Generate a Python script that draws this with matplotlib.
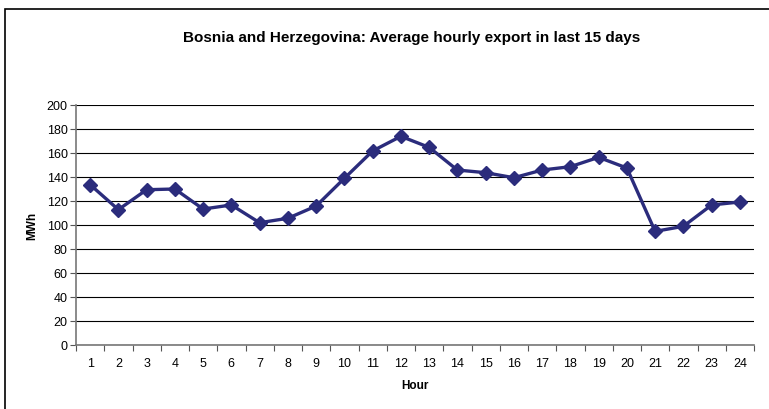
import matplotlib
matplotlib.use("Agg")
import matplotlib.pyplot as plt
from matplotlib.patches import Rectangle

hours = list(range(1, 25))
export_mwh = [133.6, 112.8, 129.4, 130.0, 113.3, 116.7, 101.9, 105.6, 115.8, 138.9,
              161.7, 173.9, 164.7, 145.8, 143.6, 139.4, 145.8, 148.6, 156.4, 147.5,
              94.7, 98.9, 116.7, 119.2]
y_ticks = list(range(0, 201, 20))

plt.rcParams["font.family"] = ["Liberation Sans", "DejaVu Sans"]

fig = plt.figure(figsize=(7.69, 4.10), dpi=100)
# outer frame of the chart area (runs past the right/bottom edge)
fig.patches.append(Rectangle((5 / 769, -0.1), 1.2, 1 - 10 / 410 + 0.1,
                             transform=fig.transFigure, fill=False,
                             edgecolor="black", lw=1.2))
ax = fig.add_axes([76 / 769, 64 / 410, 678 / 769, 240 / 410])

ax.plot(hours, export_mwh, color="#2b2c7c", lw=2.4, marker="D", ms=7,
        markeredgecolor="#2b2c7c", zorder=3)

ax.set_xlim(0.5, 24.5)
ax.set_ylim(0, 200)
ax.set_yticks(y_ticks)
ax.yaxis.grid(True, color="black", lw=0.8)
ax.set_axisbelow(True)

# category axis: ticks at boundaries, labels centred on categories
ax.set_xticks([h + 0.5 for h in [0] + hours])
ax.set_xticklabels([])
ax.set_xticks(hours, minor=True)
ax.set_xticklabels([str(h) for h in hours], minor=True)
ax.tick_params(axis="x", which="major", direction="out", length=4, color="#555555")
ax.tick_params(axis="x", which="minor", length=0, pad=9, labelsize=9)
ax.tick_params(axis="y", direction="out", length=4, color="#555555", labelsize=9, pad=2)

for s in ("top", "right"):
    ax.spines[s].set_visible(False)
for s in ("left", "bottom"):
    ax.spines[s].set_color("#777777")
    ax.spines[s].set_linewidth(1.2)

ax.set_ylabel("MWh", fontsize=8.5, fontweight="bold", labelpad=6)
ax.set_xlabel("Hour", fontsize=8.5, fontweight="bold", labelpad=7)
fig.text(0.5 * (76 + 754) / 769 - 0.004, 1 - 38 / 410,
         "Bosnia and Herzegovina: Average hourly export in last 15 days",
         ha="center", va="center", fontsize=11, fontweight="bold")

fig.savefig("out.png", dpi=100)
